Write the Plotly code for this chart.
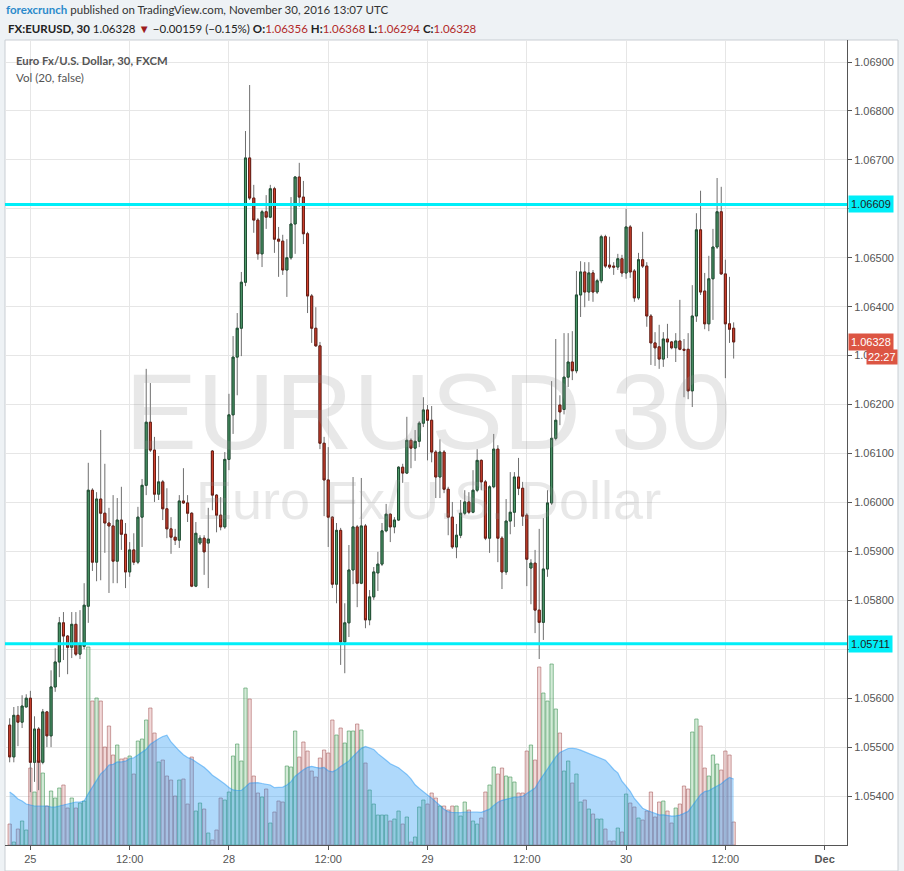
import plotly.graph_objects as go
import pandas as pd

# ---------------- data ----------------
session1_start = "2016-11-24 21:30"
session1_bars = 49
session2_start = "2016-11-27 22:00"
session2_bars = 127
weekend_break = ["2016-11-25 22:00", "2016-11-27 22:00"]

open_ = [1.05545,1.05480,1.05565,1.05551,1.05582,1.05600,1.05469,1.05537,1.05469,1.05572,
         1.05523,1.05623,1.05674,1.05754,1.05727,1.05704,1.05751,1.05690,1.05706,1.05788,
         1.06025,1.05878,1.06007,1.05978,1.05958,1.05952,1.05880,1.05964,1.05935,1.05858,
         1.05903,1.05878,1.05970,1.06035,1.06164,1.06107,1.06017,1.06042,1.05987,1.05946,
         1.05929,1.05923,1.06003,1.05999,1.05978,1.05829,1.05917,1.05927,1.05917,1.06105,
         1.06015,1.05974,1.05950,1.06088,1.06179,1.06297,1.06356,1.06450,1.06704,1.06622,
         1.06577,1.06508,1.06594,1.06583,1.06641,1.06538,1.06534,1.06475,1.06500,1.06569,
         1.06665,1.06624,1.06549,1.06422,1.06356,1.06320,1.06121,1.06046,1.05970,1.05833,
         1.05943,1.05715,1.05754,1.05862,1.05950,1.05835,1.05952,1.05760,1.05807,1.05856,
         1.05874,1.05942,1.05976,1.05950,1.05964,1.06072,1.06060,1.06127,1.06111,1.06125,
         1.06162,1.06189,1.06168,1.06103,1.06052,1.06103,1.06027,1.05970,1.05909,1.05933,
         1.05978,1.06001,1.05980,1.06025,1.06086,1.06042,1.05927,1.06032,1.06109,1.05927,
         1.05858,1.05962,1.05980,1.06052,1.06029,1.05974,1.05866,1.05876,1.05780,1.05755,
         1.05864,1.05999,1.06131,1.06199,1.06190,1.06256,1.06287,1.06269,1.06424,1.06471,
         1.06430,1.06469,1.06430,1.06453,1.06543,1.06485,1.06483,1.06481,1.06498,1.06469,
         1.06563,1.06473,1.06418,1.06496,1.06483,1.06381,1.06326,1.06318,1.06293,1.06334,
         1.06328,1.06316,1.06330,1.06313,1.06313,1.06228,1.06381,1.06557,1.06432,1.06365,
         1.06457,1.06522,1.06594,1.06467,1.06365,1.06356]
high = [1.05559,1.05582,1.05584,1.05606,1.05608,1.05615,1.05563,1.05541,1.05578,1.05574,
        1.05657,1.05702,1.05766,1.05776,1.05729,1.05776,1.05776,1.05780,1.05835,1.06081,
        1.06029,1.06021,1.06148,1.06079,1.05989,1.06015,1.06009,1.06032,1.05958,1.05919,
        1.05937,1.05991,1.06048,1.06273,1.06244,1.06134,1.06095,1.06046,1.06029,1.05970,
        1.05946,1.06015,1.06070,1.06015,1.05980,1.05960,1.05933,1.05933,1.05989,1.06107,
        1.06017,1.06011,1.06103,1.06222,1.06340,1.06387,1.06471,1.06759,1.06853,1.06649,
        1.06581,1.06598,1.06628,1.06649,1.06645,1.06563,1.06547,1.06538,1.06624,1.06667,
        1.06694,1.06657,1.06553,1.06426,1.06399,1.06328,1.06134,1.06113,1.05972,1.05958,
        1.05948,1.05794,1.05913,1.06052,1.05954,1.06050,1.05956,1.05821,1.05868,1.05899,
        1.05958,1.05997,1.05978,1.05970,1.06074,1.06079,1.06175,1.06131,1.06148,1.06166,
        1.06215,1.06199,1.06197,1.06107,1.06129,1.06107,1.06032,1.06001,1.05956,1.06005,
        1.06025,1.06021,1.06066,1.06109,1.06088,1.06046,1.06035,1.06140,1.06117,1.05931,
        1.06007,1.06062,1.06062,1.06091,1.06042,1.05978,1.05884,1.05903,1.05946,1.05968,
        1.06025,1.06248,1.06334,1.06219,1.06346,1.06346,1.06350,1.06473,1.06493,1.06491,
        1.06491,1.06475,1.06457,1.06547,1.06547,1.06543,1.06491,1.06508,1.06506,1.06600,
        1.06567,1.06477,1.06510,1.06553,1.06491,1.06385,1.06348,1.06363,1.06348,1.06365,
        1.06330,1.06346,1.06414,1.06334,1.06346,1.06444,1.06591,1.06637,1.06469,1.06504,
        1.06559,1.06663,1.06645,1.06496,1.06461,1.06368]
low = [1.05469,1.05469,1.05502,1.05539,1.05582,1.05408,1.05429,1.05412,1.05465,1.05500,
       1.05500,1.05613,1.05643,1.05678,1.05649,1.05682,1.05686,1.05680,1.05700,1.05754,
       1.05860,1.05839,1.05841,1.05897,1.05815,1.05835,1.05835,1.05903,1.05825,1.05848,
       1.05872,1.05874,1.05909,1.06015,1.06103,1.06001,1.06005,1.05964,1.05927,1.05895,
       1.05913,1.05907,1.05997,1.05960,1.05827,1.05827,1.05913,1.05852,1.05825,1.05984,
       1.05939,1.05943,1.05946,1.06066,1.06140,1.06219,1.06299,1.06442,1.06618,1.06551,
       1.06496,1.06481,1.06559,1.06581,1.06510,1.06461,1.06465,1.06420,1.06496,1.06508,
       1.06604,1.06528,1.06387,1.06326,1.06318,1.06109,1.05972,1.05909,1.05825,1.05794,
       1.05668,1.05651,1.05725,1.05833,1.05786,1.05833,1.05743,1.05749,1.05801,1.05819,
       1.05870,1.05939,1.05919,1.05937,1.05962,1.06040,1.06058,1.06070,1.06085,1.06113,
       1.06154,1.06086,1.06082,1.06009,1.06009,1.06019,1.05933,1.05905,1.05886,1.05927,
       1.05974,1.05976,1.05978,1.06021,1.06025,1.05923,1.05897,1.06029,1.05878,1.05823,
       1.05852,1.05935,1.05950,1.06015,1.05952,1.05829,1.05792,1.05733,1.05680,1.05719,
       1.05848,1.05995,1.06127,1.06158,1.06180,1.06236,1.06250,1.06264,1.06379,1.06399,
       1.06412,1.06410,1.06426,1.06448,1.06479,1.06477,1.06465,1.06475,1.06461,1.06457,
       1.06459,1.06410,1.06414,1.06479,1.06359,1.06281,1.06279,1.06273,1.06277,1.06295,
       1.06313,1.06287,1.06311,1.06215,1.06211,1.06195,1.06369,1.06424,1.06354,1.06350,
       1.06373,1.06518,1.06465,1.06254,1.06326,1.06294]
close = [1.05480,1.05565,1.05551,1.05584,1.05600,1.05469,1.05537,1.05469,1.05572,1.05523,
         1.05623,1.05674,1.05754,1.05727,1.05704,1.05751,1.05690,1.05709,1.05790,1.06025,
         1.05878,1.06007,1.05978,1.05958,1.05952,1.05880,1.05964,1.05935,1.05858,1.05903,
         1.05878,1.05970,1.06035,1.06164,1.06107,1.06017,1.06042,1.05987,1.05946,1.05929,
         1.05923,1.06003,1.05999,1.05978,1.05829,1.05937,1.05927,1.05899,1.05925,1.06015,
         1.05974,1.05950,1.06088,1.06179,1.06297,1.06356,1.06450,1.06704,1.06622,1.06577,
         1.06508,1.06594,1.06583,1.06641,1.06538,1.06534,1.06475,1.06500,1.06569,1.06665,
         1.06624,1.06549,1.06422,1.06356,1.06320,1.06121,1.06046,1.05970,1.05833,1.05943,
         1.05715,1.05754,1.05862,1.05950,1.05835,1.05952,1.05760,1.05807,1.05858,1.05874,
         1.05942,1.05976,1.05950,1.05964,1.06072,1.06060,1.06127,1.06111,1.06125,1.06162,
         1.06189,1.06168,1.06103,1.06052,1.06103,1.06027,1.05970,1.05909,1.05933,1.05978,
         1.06001,1.05980,1.06025,1.06086,1.06042,1.05927,1.06032,1.06109,1.05927,1.05858,
         1.05962,1.05980,1.06052,1.06029,1.05972,1.05884,1.05876,1.05780,1.05755,1.05864,
         1.05999,1.06131,1.06168,1.06185,1.06256,1.06287,1.06269,1.06424,1.06471,1.06430,
         1.06469,1.06430,1.06453,1.06543,1.06483,1.06481,1.06481,1.06498,1.06469,1.06563,
         1.06471,1.06418,1.06496,1.06483,1.06381,1.06326,1.06316,1.06293,1.06334,1.06328,
         1.06316,1.06330,1.06313,1.06311,1.06228,1.06381,1.06557,1.06430,1.06365,1.06457,
         1.06522,1.06594,1.06467,1.06365,1.06354,1.06328]
volume = [21,3,16,24,15,77,53,85,72,39, 54,47,57,60,37,47,37,42,44,198,
          144,147,144,98,119,90,100,86,87,89, 71,104,106,125,137,112,83,85,69,65,
          49,65,66,41,88,34,42,36,12,5, 15,47,45,53,89,101,84,157,146,69,
          52,48,56,22,33,44,43,79,78,114, 88,103,94,74,68,87,95,92,125,110,
          117,102,114,114,121,115,82,55,41,30, 30,30,24,26,34,21,28,3,8,38,
          45,41,52,47,39,39,35,39,39,29, 43,35,24,21,27,53,60,78,71,77,
          69,68,63,52,52,94,100,85,178,152, 144,181,136,112,74,84,62,71,43,45,
          36,31,26,26,16,4,4,17,13,51, 42,38,27,25,34,53,28,43,44,34,
          22,37,41,59,56,113,126,119,77,69, 90,81,75,94,90,23]
# Vol(20) average for the first 19 bars (depends on bars before the visible window)
ma_head = [53,50,46,44,41,40,39,39,39,39,38,38,39,40,41,42,43,43,44]
ma_length = 20

support = 1.05711
resistance = 1.06609
last_price = 1.06328
countdown = "22:27"

price_ticks = [1.054, 1.055, 1.056, 1.057, 1.058, 1.059, 1.060, 1.061,
               1.062, 1.063, 1.064, 1.065, 1.066, 1.067, 1.068, 1.069]
# labels fully hidden behind the cyan level boxes in the reference
hidden_price_labels = [1.057, 1.066]
time_ticks = ["2016-11-25 00:00", "2016-11-25 12:00", "2016-11-28 00:00", "2016-11-28 12:00",
              "2016-11-29 00:00", "2016-11-29 12:00", "2016-11-30 00:00", "2016-11-30 12:00",
              "2016-12-01 00:00"]
time_tick_text = ["25", "12:00", "28", "12:00", "29", "12:00", "30", "12:00", "<b>Dec</b>"]
x_view = ["2016-11-24 20:56", "2016-12-01 02:42"]

# ---------------- build ----------------
times = list(pd.date_range(session1_start, periods=session1_bars, freq="30min")) + \
        list(pd.date_range(session2_start, periods=session2_bars, freq="30min"))

vol_s = pd.Series(volume, dtype=float)
ma = vol_s.rolling(ma_length).mean().tolist()
ma[:len(ma_head)] = ma_head

up = [c >= o for o, c in zip(open_, close)]
vol_fill = ["rgba(96,178,110,0.28)" if u else "rgba(205,120,120,0.28)" for u in up]
vol_line = ["rgba(70,150,90,0.6)" if u else "rgba(165,90,90,0.55)" for u in up]

body_hi = [max(o, c) for o, c in zip(open_, close)]
body_lo = [min(o, c) for o, c in zip(open_, close)]

price_tick_text = ["" if any(abs(p - h) < 1e-9 for h in hidden_price_labels) else f"{p:.5f}"
                   for p in price_ticks]

fig = go.Figure()

fig.add_trace(go.Bar(x=times, y=volume, marker=dict(color=vol_fill, line=dict(color=vol_line, width=1)),
                     yaxis="y", hoverinfo="skip", showlegend=False))
fig.add_trace(go.Scatter(x=times, y=ma, mode="lines", fill="tozeroy",
                         fillcolor="rgba(33,150,243,0.36)",
                         line=dict(color="rgba(33,150,243,0.5)", width=1.2),
                         yaxis="y", hoverinfo="skip", showlegend=False))
# wicks (gray)
fig.add_trace(go.Candlestick(x=times, open=open_, high=high, low=low, close=close, yaxis="y2",
                             increasing=dict(line=dict(color="#6f6f6f", width=1), fillcolor="#4f9b6c"),
                             decreasing=dict(line=dict(color="#6f6f6f", width=1), fillcolor="#d2432f"),
                             whiskerwidth=0, showlegend=False, hoverinfo="skip"))
# bodies with dark outline
fig.add_trace(go.Candlestick(x=times, open=open_, high=body_hi, low=body_lo, close=close, yaxis="y2",
                             increasing=dict(line=dict(color="#1f4f33", width=1), fillcolor="#4f9b6c"),
                             decreasing=dict(line=dict(color="#6a1d14", width=1), fillcolor="#d2432f"),
                             whiskerwidth=0, showlegend=False, hoverinfo="skip"))

axis_font = dict(family="Liberation Sans, Arial", size=11, color="#555555")

fig.update_layout(
    width=904, height=871,
    margin=dict(l=5, r=57, t=40, b=26),
    paper_bgcolor="#eef2f5",
    plot_bgcolor="#ffffff",
    showlegend=False,
    xaxis=dict(type="date", range=x_view, rangebreaks=[dict(bounds=weekend_break)],
               tickvals=time_ticks, ticktext=time_tick_text, tickfont=axis_font,
               showgrid=True, gridcolor="#e6e6e6", gridwidth=1,
               showline=True, linecolor="#555555", linewidth=1,
               ticks="outside", ticklen=4, tickcolor="#555555",
               rangeslider=dict(visible=False), zeroline=False, fixedrange=True),
    yaxis=dict(range=[0, 805], visible=False, showgrid=False, fixedrange=True),
    yaxis2=dict(overlaying="y", side="right", range=[1.05300, 1.06945],
                tickvals=price_ticks, ticktext=price_tick_text, tickfont=axis_font,
                showgrid=True, gridcolor="#e6e6e6", gridwidth=1,
                showline=True, linecolor="#555555", linewidth=1,
                ticks="outside", ticklen=4, tickcolor="#555555",
                zeroline=False, fixedrange=True),
)

shapes = [
    dict(type="rect", xref="paper", yref="paper", x0=0, x1=1.0606, y0=-0.0323, y1=1.0,
         fillcolor="#ffffff", line=dict(color="#c9ced3", width=1), layer="below"),
    dict(type="line", xref="paper", yref="y2", x0=0, x1=1, y0=resistance, y1=resistance,
         line=dict(color="#00eef8", width=3)),
    dict(type="line", xref="paper", yref="y2", x0=0, x1=1, y0=support, y1=support,
         line=dict(color="#00eef8", width=3)),
]
fig.update_layout(shapes=shapes)

label_font = dict(family="Liberation Sans, Arial", size=11, color="#222222")
annotations = [
    # watermark
    dict(text="EURUSD 30", xref="paper", yref="paper", x=0.5024, y=0.539, showarrow=False,
         font=dict(family="Liberation Sans, Arial", size=108, color="rgba(150,150,150,0.22)"),
         xanchor="center", yanchor="middle"),
    dict(text="Euro Fx/U.S. Dollar", xref="paper", yref="paper", x=0.5024, y=0.429, showarrow=False,
         font=dict(family="Liberation Sans, Arial", size=54, color="rgba(150,150,150,0.22)"),
         xanchor="center", yanchor="middle"),
    # header
    dict(text='<span style="color:#2b8acb"><b>forexcrunch</b></span> published on TradingView.com, November 30, 2016 13:07 UTC',
         xref="paper", yref="paper", x=-0.0012, y=1.0373, xanchor="left", yanchor="middle", showarrow=False,
         font=dict(family="Lato, Open Sans", size=11.5, color="#333333")),
    dict(text='<b>FX:EURUSD, 30</b> 1.06328 <span style="color:#9c1c1c">▼</span> −0.00159 (−0.15%) '
              '<b>O:</b><span style="color:#b22a2a">1.06356</span> <b>H:</b><span style="color:#b22a2a">1.06368</span> '
              '<b>L:</b><span style="color:#b22a2a">1.06294</span> <b>C:</b><span style="color:#b22a2a">1.06328</span>',
         xref="paper", yref="paper", x=0.001, y=1.0137, xanchor="left", yanchor="middle", showarrow=False,
         font=dict(family="Lato, Open Sans", size=11.5, color="#222222")),
    dict(text="<b>Euro Fx/U.S. Dollar, 30, FXCM</b>", xref="paper", yref="paper", x=0.0107, y=0.974,
         xanchor="left", yanchor="middle", showarrow=False,
         font=dict(family="Lato, Open Sans", size=11.3, color="#555555")),
    dict(text="Vol (20, false)", xref="paper", yref="paper", x=0.0107, y=0.954,
         xanchor="left", yanchor="middle", showarrow=False,
         font=dict(family="Lato, Open Sans", size=11.6, color="#555555")),
    # axis price labels
    dict(text=f"{resistance:.5f}", xref="paper", yref="y2", x=1.0012, y=resistance, xanchor="left",
         yanchor="middle", showarrow=False, bgcolor="#00eef8", borderpad=2, font=label_font),
    dict(text=f"{support:.5f}", xref="paper", yref="y2", x=1.0012, y=support, xanchor="left",
         yanchor="middle", showarrow=False, bgcolor="#00eef8", borderpad=2, font=label_font),
    dict(text=f"{last_price:.5f}", xref="paper", yref="y2", x=1.0012, y=last_price, xanchor="left",
         yanchor="middle", showarrow=False, bgcolor="#dc5543", borderpad=2,
         font=dict(family="Liberation Sans, Arial", size=11, color="#ffffff")),
    dict(text=countdown, xref="paper", yref="y2", x=1.0606, y=last_price, yshift=-15, xanchor="right",
         yanchor="middle", showarrow=False, bgcolor="#dc5543", borderpad=1,
         font=dict(family="Liberation Sans, Arial", size=11, color="#ffffff")),
]
fig.update_layout(annotations=annotations)

fig.write_html("out.html", config={"displayModeBar": False},
               post_script="document.body.style.margin='0px';document.body.style.background='#eef2f5';")
